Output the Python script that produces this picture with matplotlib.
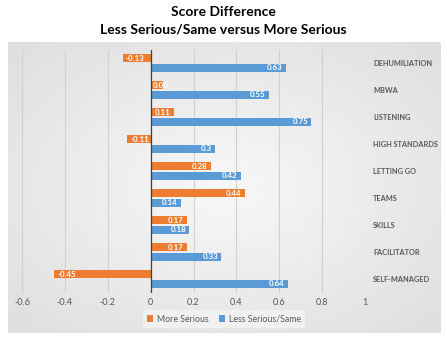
import numpy as np
import matplotlib.pyplot as plt
from matplotlib.ticker import FuncFormatter

# chart data, top to bottom
categories = ['DEHUMILIATION', 'MBWA', 'LISTENING', 'HIGH STANDARDS', 'LETTING GO',
              'TEAMS', 'SKILLS', 'FACILITATOR', 'SELF-MANAGED']
more_serious = [-0.13, 0.06, 0.11, -0.11, 0.28, 0.44, 0.17, 0.17, -0.45]
less_serious = [0.63, 0.55, 0.75, 0.3, 0.42, 0.14, 0.18, 0.33, 0.64]
xticks = [-0.6, -0.4, -0.2, 0, 0.2, 0.4, 0.6, 0.8, 1]

orange = '#ED7D31'
blue = '#5B9BD5'
txt = '#595959'
plt.rcParams['font.family'] = ['Lato', 'DejaVu Sans']

fig = plt.figure(figsize=(4.47, 3.37), dpi=100)

# chart area background (soft radial gradient like the office chart style)
bg = fig.add_axes([8/447, 1-333/337, 432/447, 291/337])
yy, xx = np.mgrid[-1:1:200j, -1:1:300j]
r = np.sqrt(xx**2 + yy**2) / np.sqrt(2)
bg.imshow(0.97 - 0.10*r, cmap='gray', vmin=0, vmax=1, aspect='auto')
bg.axis('off')

ax = fig.add_axes([22/447, 1-292.5/337, 343/447, 243/337])
ax.patch.set_alpha(0)

y = np.arange(len(categories))
h = 0.3
ax.barh(y - 0.18, more_serious, height=h, color=orange, label='More Serious', zorder=3)
ax.barh(y + 0.18, less_serious, height=h, color=blue, label='Less Serious/Same', zorder=3)

def put_label(v, yi):
    if v < 0:
        ax.text(v + 0.015, yi, f'{v:g}', ha='left', va='center', color='white',
                fontsize=5.7, fontweight='bold', zorder=4)
    elif v < 0.1:
        # too short for the label: it starts at the bar base and runs past the end
        ax.text(0.01, yi, f'{v:g}', ha='left', va='center', color='white',
                fontsize=5.7, fontweight='bold', zorder=4)
    else:
        ax.text(v - 0.015, yi, f'{v:g}', ha='right', va='center', color='white',
                fontsize=5.7, fontweight='bold', zorder=4)

for yi, v in zip(y - 0.18, more_serious):
    put_label(v, yi)
for yi, v in zip(y + 0.18, less_serious):
    put_label(v, yi)

ax.set_xlim(-0.6, 1.0)
ax.set_ylim(len(categories) - 0.5, -0.5)
ax.set_xticks(xticks)
ax.xaxis.set_major_formatter(FuncFormatter(lambda v, p: f'{v:g}'))
ax.grid(axis='x', color='#d0d0d0', linewidth=0.8, zorder=0)
ax.axvline(0, color='#404040', linewidth=0.9, zorder=5)
for s in ax.spines.values():
    s.set_visible(False)
ax.tick_params(axis='x', length=0, labelsize=6.5, labelcolor=txt, pad=4)

ax.set_yticks(y)
ax.set_yticklabels(categories, fontsize=5.3, color=txt, fontweight='bold')
ax.yaxis.tick_right()
ax.tick_params(axis='y', length=0, pad=6)

fig.text(0.5, 1-12/337, 'Score Difference', ha='center', va='center',
         fontsize=10, fontweight='bold')
fig.text(0.5, 1-30/337, 'Less Serious/Same versus More Serious', ha='center', va='center',
         fontsize=10, fontweight='bold')

leg = fig.legend(loc='center', bbox_to_anchor=(224/447, 1-319/337), ncol=2, fontsize=6.3,
                 frameon=True, fancybox=False, handlelength=0.7, handleheight=0.7,
                 columnspacing=1.2, handletextpad=0.4, borderpad=0.5)
leg.get_frame().set_facecolor('#f4f4f4')
leg.get_frame().set_edgecolor('none')
for t in leg.get_texts():
    t.set_color(txt)

fig.savefig('out.png', dpi=100)
